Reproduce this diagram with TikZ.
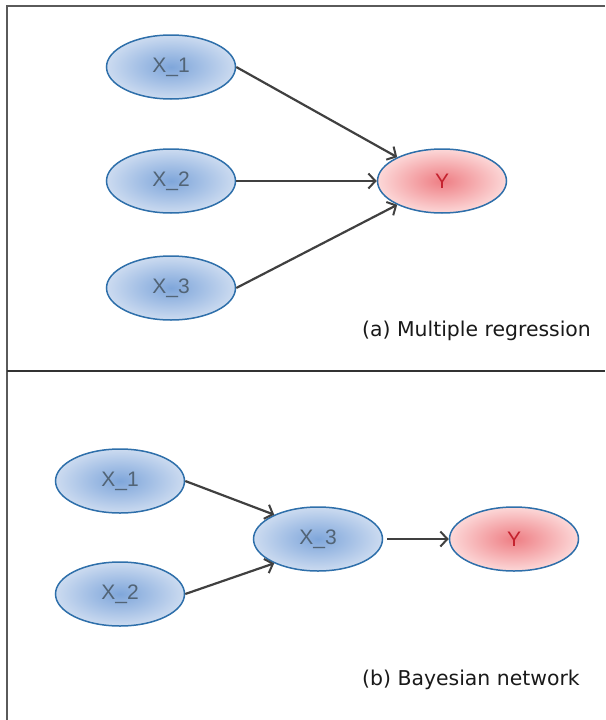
\documentclass[tikz,border=0pt]{standalone}
\usepackage{fontspec}
\setmainfont{Liberation Sans}
\newfontfamily\captionfont{DejaVu Sans}
\usetikzlibrary{shapes.geometric,arrows.meta}

\definecolor{frameline}{HTML}{5A5A5A}
\definecolor{dividerline}{HTML}{333333}
\definecolor{edgecol}{HTML}{404040}
\definecolor{blueinner}{HTML}{7FA6DA}
\definecolor{bluemid}{HTML}{A3BFE5}
\definecolor{blueouter}{HTML}{CCDBF0}
\definecolor{redinner}{HTML}{EE7E84}
\definecolor{redmid}{HTML}{F5A9AC}
\definecolor{redouter}{HTML}{FCD8D8}
\definecolor{nodeborder}{HTML}{2E6FAA}
\definecolor{xtext}{HTML}{526476}
\definecolor{ytext}{HTML}{C4222E}

% soft radial fills with a broad centre
\pgfdeclareradialshading{bluefill}{\pgfpoint{0bp}{0bp}}{%
  color(0bp)=(blueinner); color(12bp)=(bluemid); color(25bp)=(blueouter);
  color(50bp)=(blueouter)}
\pgfdeclareradialshading{redfill}{\pgfpoint{0bp}{0bp}}{%
  color(0bp)=(redinner); color(12bp)=(redmid); color(25bp)=(redouter);
  color(50bp)=(redouter)}

\tikzset{
  varnode/.style={ellipse, draw=nodeborder, line width=1.5pt,
    minimum width=129pt, minimum height=64pt, inner sep=0pt,
    font=\fontsize{21}{25}\selectfont},
  xvar/.style={varnode, shading=bluefill, text=xtext},
  yvar/.style={varnode, shading=redfill, text=ytext},
  link/.style={draw=edgecol, line width=2.2pt,
    -{Straight Barb[length=7pt,width=15pt,line width=2pt]}},
  caption/.style={anchor=west, inner sep=0pt,
    font=\captionfont\fontsize{20.4}{24}\selectfont, text=black!90}
}

\begin{document}
\begin{tikzpicture}[x=1pt,y=-1pt]
  \useasboundingbox (0,0) rectangle (605,720);

  % panel frame and divider
  \draw[frameline, line width=2pt] (6.5,720) -- (6.5,5.5) -- (605,5.5);
  \draw[dividerline, line width=2pt] (6.5,371) -- (605,371);

  % (a) multiple regression
  \node[xvar] (a1) at (171,67)  {X\_1};
  \node[xvar] (a2) at (171,181) {X\_2};
  \node[xvar] (a3) at (171,288) {X\_3};
  \node[yvar] (ay) at (442,181) {Y};

  \draw[link] (a1.east) -- (ay.152);
  \draw[link] (a2.east) -- (ay.west);
  \draw[link] (a3.east) -- (ay.208);

  \node[caption] (capa) at (362,331) {(a) Multiple regression};

  % (b) Bayesian network
  \node[xvar] (b1) at (120,481) {X\_1};
  \node[xvar] (b2) at (120,594) {X\_2};
  \node[xvar] (b3) at (318,539) {X\_3};
  \node[yvar] (by) at (514,539) {Y};

  \draw[link] (b1.east) -- (b3.151);
  \draw[link] (b2.east) -- (b3.209);
  \draw[link, shorten <=4pt] (b3.east) -- (by.west);

  \node[caption] (capb) at (362,680) {(b) Bayesian network};
\end{tikzpicture}
\end{document}
